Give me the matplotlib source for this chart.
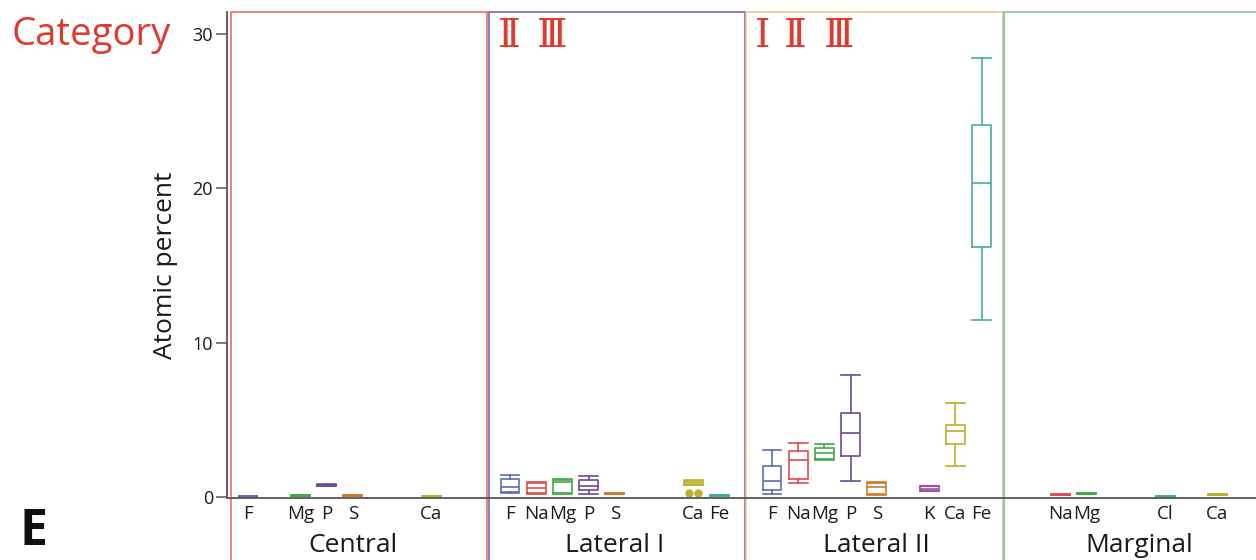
import matplotlib.pyplot as plt
from matplotlib.patches import Rectangle
from matplotlib.transforms import blended_transform_factory

plt.rcParams['font.family'] = ['Open Sans', 'DejaVu Sans']

# element slots shared by every region
slots = ['F', 'Na', 'Mg', 'P', 'S', 'Cl', 'K', 'Ca', 'Fe']
groups = ['Central', 'Lateral I', 'Lateral II', 'Marginal']

# roman numeral markers above the Lateral regions (glyph, x centre in px)
lat1_numerals = [('Ⅱ', 509.5), ('Ⅲ', 552.5)]
lat2_numerals = [('Ⅰ', 763), ('Ⅱ', 795.5), ('Ⅲ', 839.5)]

# (whisker low, q1, median, q3, whisker high) in atomic percent
central = ['F', 'Mg', 'P', 'S', 'Ca']
central_box = [(0.04, 0.05, 0.06, 0.07, 0.08), (0.10, 0.11, 0.13, 0.16, 0.17),
               (0.74, 0.75, 0.78, 0.82, 0.83), (0.10, 0.11, 0.13, 0.16, 0.17),
               (0.04, 0.05, 0.06, 0.07, 0.08)]

lateral1 = ['F', 'Na', 'Mg', 'P', 'S', 'Ca', 'Fe']
lateral1_box = [(0.30, 0.35, 0.67, 1.15, 1.43), (0.24, 0.26, 0.60, 0.89, 0.99),
                (0.22, 0.25, 1.00, 1.10, 1.15), (0.24, 0.45, 0.71, 1.10, 1.36),
                (0.20, 0.22, 0.24, 0.26, 0.28), (0.76, 0.78, 0.95, 1.08, 1.12),
                (0.10, 0.11, 0.13, 0.15, 0.16)]
lateral1_ca_outliers = [0.25, 0.25]

lateral2 = ['F', 'Na', 'Mg', 'P', 'S', 'K', 'Ca', 'Fe']
lateral2_box = [(0.20, 0.45, 1.06, 2.00, 3.07), (0.95, 1.17, 2.40, 2.98, 3.54),
                (2.40, 2.50, 2.85, 3.20, 3.45), (1.06, 2.68, 4.13, 5.42, 7.90),
                (0.13, 0.20, 0.67, 0.95, 1.00), (0.38, 0.40, 0.55, 0.72, 0.75),
                (2.00, 3.43, 4.30, 4.67, 6.07), (11.47, 16.22, 20.33, 24.10, 28.43)]

marginal = ['Na', 'Mg', 'Cl', 'Ca']
marginal_box = [(0.15, 0.16, 0.17, 0.18, 0.19), (0.22, 0.23, 0.24, 0.25, 0.26),
                (0.04, 0.05, 0.06, 0.07, 0.08), (0.15, 0.16, 0.17, 0.18, 0.19)]

elem_colors = {'F': '#5b6db3', 'Na': '#e04a50', 'Mg': '#43a84a', 'P': '#6a4a9c',
               'S': '#d07a2a', 'Cl': '#45aca2', 'K': '#a24ca0', 'Ca': '#bab22a',
               'Fe': '#45aca2'}
frame_colors = ['#e8705e', '#7a6aae', '#f3c98a', '#7cc4a8']
frame_left = [-0.65, 9.2, 19.02, 28.87]
frame_right = [9.12, 18.97, 28.82, 38.9]

fig = plt.figure(figsize=(12.56, 5.6), dpi=100)
ax = fig.add_axes([227 / 1256, 1 - 498 / 560, 1029 / 1256, 486 / 560])

tick_pos, tick_lab = [], []
all_elems = [central, lateral1, lateral2, marginal]
all_boxes = [central_box, lateral1_box, lateral2_box, marginal_box]
for g, (elems, boxes) in enumerate(zip(all_elems, all_boxes)):
    for el, (lo, q1, med, q3, hi) in zip(elems, boxes):
        x = g * 10 + slots.index(el)
        c = elem_colors[el]
        st = [dict(whislo=lo, q1=q1, med=med, q3=q3, whishi=hi, fliers=[])]
        ax.bxp(st, positions=[x], widths=0.72, capwidths=0.72, showfliers=False,
               boxprops=dict(color=c, lw=1.2), whiskerprops=dict(color=c, lw=1.2),
               capprops=dict(color=c, lw=1.2), medianprops=dict(color=c, lw=1.2),
               manage_ticks=False)
        tick_pos.append(x)
        tick_lab.append(el)

# outliers for Ca in Lateral I
ca_x = 10 + slots.index('Ca')
for dx, v in zip([-0.17, 0.17], lateral1_ca_outliers):
    ax.plot(ca_x + dx, v, 'o', color=elem_colors['Ca'], ms=6, mec='none')

trans = blended_transform_factory(ax.transData, ax.transAxes)
for g in range(4):
    ax.add_patch(Rectangle((frame_left[g], -0.14), frame_right[g] - frame_left[g], 1.14,
                           transform=trans, fill=False, ec=frame_colors[g], lw=1.2,
                           clip_on=False, zorder=0))
    ax.text(g * 10 + 4, -0.111, groups[g], transform=trans, ha='center',
            va='baseline', fontsize=19, color='#1a1a1a')

ax.set_xlim(-0.8, 38.47)
ax.set_ylim(-0.05, 31.4)
ax.set_yticks([0, 10, 20, 30])
ax.set_xticks(tick_pos)
ax.set_xticklabels(tick_lab)
ax.tick_params(axis='x', length=0, pad=5, labelsize=13.5, labelcolor='#1a1a1a')
ax.tick_params(axis='y', length=8, width=1.1, color='#555555', labelsize=13,
               labelcolor='#1a1a1a', pad=2)
for s in ['top', 'right']:
    ax.spines[s].set_visible(False)
for s in ['left', 'bottom']:
    ax.spines[s].set_color('#555555')
    ax.spines[s].set_linewidth(1.3)

fig.text(166 / 1256, 1 - 265 / 560, 'Atomic percent', rotation=90, ha='center',
         va='center', fontsize=19, color='#1a1a1a')
fig.text(12 / 1256, 1 - 45 / 560, 'Category', fontsize=27.5, color='#e03a2e',
         va='baseline')
fig.text(19 / 1256, 1 - 545 / 560, 'E', fontsize=36, fontweight='bold',
         va='baseline', color='#111111')
for glyph, px in lat1_numerals + lat2_numerals:
    fig.text(px / 1256, 1 - 47 / 560, glyph, fontsize=28, color='#e03a2e',
             ha='center', va='baseline', family=['DejaVu Serif'])

fig.savefig('out.png', dpi=100)
